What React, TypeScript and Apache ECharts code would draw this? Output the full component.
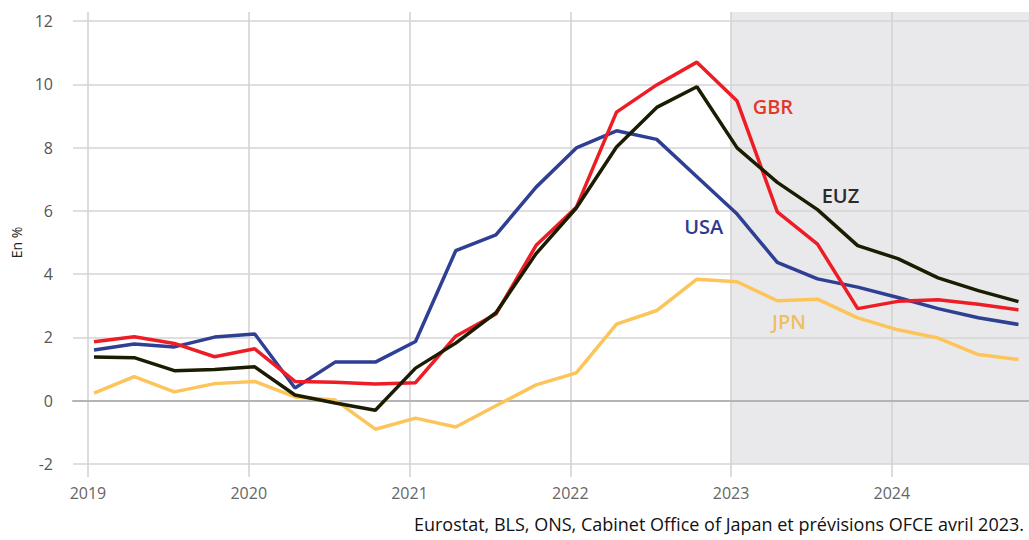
import React, { useEffect, useRef } from 'react';
import * as echarts from 'echarts';

// Quarterly observations (first month of each quarter)
const quarters = [
  '2019-01', '2019-04', '2019-07', '2019-10',
  '2020-01', '2020-04', '2020-07', '2020-10',
  '2021-01', '2021-04', '2021-07', '2021-10',
  '2022-01', '2022-04', '2022-07', '2022-10',
  '2023-01', '2023-04', '2023-07', '2023-10',
  '2024-01', '2024-04', '2024-07', '2024-10',
];
const GBR = [1.86, 2.02, 1.81, 1.39, 1.64, 0.61, 0.58, 0.53, 0.57, 2.04, 2.74, 4.91, 6.11, 9.12, 9.98, 10.7, 9.47, 5.97, 4.95, 2.91, 3.14, 3.19, 3.05, 2.87];
const USA = [1.6, 1.79, 1.7, 2.01, 2.11, 0.4, 1.22, 1.22, 1.87, 4.74, 5.24, 6.75, 7.99, 8.53, 8.26, 7.08, 5.9, 4.37, 3.85, 3.59, 3.26, 2.91, 2.62, 2.41];
const EUZ = [1.38, 1.36, 0.95, 0.99, 1.07, 0.18, -0.07, -0.3, 1.03, 1.82, 2.78, 4.65, 6.09, 8.02, 9.27, 9.92, 7.99, 6.9, 6.04, 4.9, 4.49, 3.88, 3.48, 3.13];
const JPN = [0.24, 0.76, 0.28, 0.54, 0.61, 0.12, 0.02, -0.9, -0.55, -0.83, -0.16, 0.5, 0.88, 2.42, 2.85, 3.84, 3.76, 3.16, 3.21, 2.62, 2.24, 1.98, 1.46, 1.3];

const yearTicks = [2019, 2020, 2021, 2022, 2023, 2024];
const forecastStart = 2023;
const xMin = 2018.907;
const xMax = 2024.853;
const yMin = -2;
const yMax = 12;
const yStep = 2;

const seriesDefs = [
  { name: 'JPN', values: JPN, color: '#fdc45a', labelColor: '#efbf5f', labelAt: [2023.36, 2.5] },
  { name: 'USA', values: USA, color: '#2e3f94', labelColor: '#2e3b8c', labelAt: [2022.83, 5.5] },
  { name: 'GBR', values: GBR, color: '#ee1c25', labelColor: '#e0392b', labelAt: [2023.26, 9.3] },
  { name: 'EUZ', values: EUZ, color: '#1c1c02', labelColor: '#2b2b2b', labelAt: [2023.68, 6.5] },
];

const source = 'Eurostat, BLS, ONS, Cabinet Office of Japan et prévisions OFCE avril 2023.';

function quarterPos(q: string): number {
  const [y, m] = q.split('-').map(Number);
  return y + (m - 1 + 0.45) / 12;
}

export default function App() {
  const ref = useRef<HTMLDivElement>(null);

  useEffect(() => {
    if (!ref.current) return;
    const chart = echarts.init(ref.current, null, { renderer: 'svg' });
    const font = '"Open Sans", "Noto Sans", sans-serif';

    const lineSeries = seriesDefs.map((s) => ({
      type: 'line',
      name: s.name,
      xAxisIndex: 0,
      yAxisIndex: 0,
      data: quarters.map((q, i) => [quarterPos(q), s.values[i]]),
      symbol: 'none',
      lineStyle: { color: s.color, width: 3.5 },
      itemStyle: { color: s.color },
      z: 3,
      silent: true,
      markPoint: {
        silent: true,
        symbol: 'circle',
        symbolSize: 1,
        itemStyle: { color: 'transparent' },
        label: {
          show: true,
          position: 'inside',
          formatter: s.name,
          color: s.labelColor,
          fontSize: 20,
          fontWeight: 600,
          fontFamily: font,
        },
        data: [{ coord: s.labelAt }],
      },
    }));

    chart.setOption({
      animation: false,
      grid: [
        { left: 73, right: 0, top: 21, bottom: 76 },
        { left: 73, right: 0, top: 12, bottom: 63 },
      ],
      xAxis: [
        {
          type: 'value', gridIndex: 0, min: xMin, max: xMax,
          axisLine: { show: true, onZero: true, lineStyle: { color: '#b4b4b4', width: 2 } },
          axisTick: { show: false }, axisLabel: { show: false }, splitLine: { show: false },
        },
        {
          type: 'value', gridIndex: 1, min: xMin, max: xMax,
          axisLine: { show: false }, axisTick: { show: false }, axisLabel: { show: false }, splitLine: { show: false },
        },
      ],
      yAxis: [
        {
          type: 'value', gridIndex: 0, min: yMin, max: yMax, interval: yStep,
          name: 'En %', nameLocation: 'middle', nameGap: 50,
          nameTextStyle: { fontSize: 14, color: '#222', fontFamily: font },
          axisLine: { show: false }, axisTick: { show: false },
          axisLabel: { margin: 20, fontSize: 16, color: '#555', fontFamily: font },
          splitLine: { lineStyle: { color: '#d4d4d4', width: 1.5 } },
        },
        {
          type: 'value', gridIndex: 1, min: -2.41, max: 12.28,
          axisLine: { show: false }, axisTick: { show: false }, axisLabel: { show: false }, splitLine: { show: false },
        },
      ],
      series: [
        {
          type: 'line', xAxisIndex: 1, yAxisIndex: 1, data: [], silent: true,
          symbol: 'none', lineStyle: { width: 0 },
          markArea: {
            silent: true, z: -2,
            itemStyle: { color: '#e9e9eb' },
            data: [[{ xAxis: forecastStart, yAxis: 12.28 }, { xAxis: xMax, yAxis: yMin }]],
          },
          markLine: {
            silent: true, z: -1,
            symbol: ['none', 'none'],
            lineStyle: { type: 'solid', color: '#d0d0d0', width: 1.5 },
            label: {
              show: true, position: 'start', distance: 8,
              formatter: (p: any) => String(p.value),
              fontSize: 16, color: '#666', fontFamily: font,
            },
            emphasis: { disabled: true },
            data: yearTicks.map((y) => ({ xAxis: y })),
          },
        },
        ...lineSeries,
      ],
      graphic: [
        {
          type: 'text', right: 5, top: 515,
          style: { text: source, font: '18px "Open Sans", "Noto Sans", sans-serif', fill: '#111' },
        },
      ],
    });

    return () => chart.dispose();
  }, []);

  return (
    <div
      ref={ref}
      style={{ position: 'absolute', left: 0, top: 0, width: 1029, height: 540 }}
    />
  );
}
